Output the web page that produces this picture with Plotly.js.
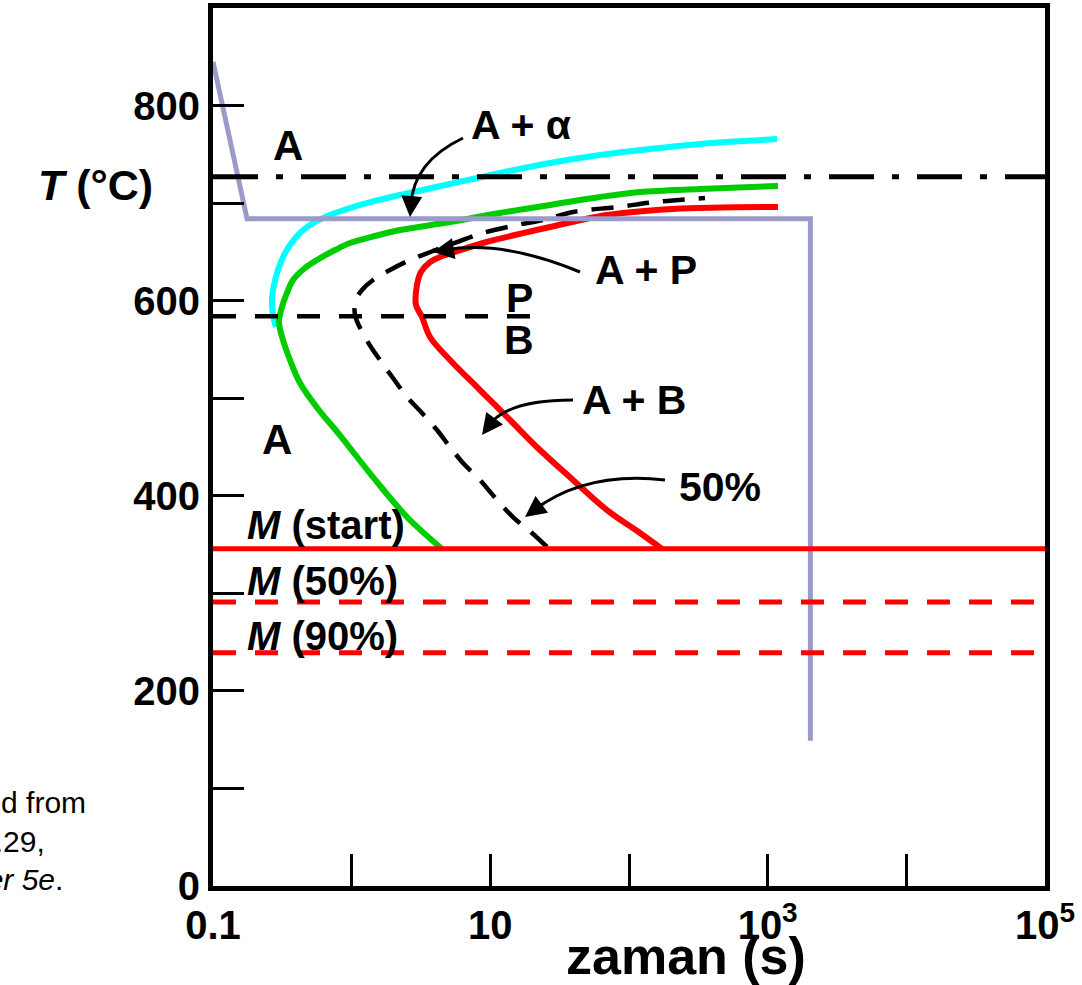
<!DOCTYPE html>
<html>
<head>
<meta charset="utf-8">
<script src="https://cdn.plot.ly/plotly-3.0.1.min.js"></script>
<style>html,body{margin:0;padding:0;background:#fff;}#chart{width:1082px;height:985px;}</style>
</head>
<body>
<div id="chart"></div>
<script>
// ---- Data (time in s, temperature in °C) ----
const cyanTime  = [0.2846, 0.2709, 0.2664, 0.2754, 0.2942, 0.3251, 0.3592, 0.424, 0.5006, 0.6978, 0.9727, 1.473, 2.231, 5.118, 11.74, 26.93, 61.78, 141.7, 325.0, 1167];
const cyanTemp  = [573.0, 585.3, 600.7, 616.1, 631.5, 646.8, 657.1, 669.4, 677.6, 687.8, 695.0, 702.2, 708.3, 719.6, 730.9, 741.1, 749.3, 755.5, 760.6, 765.7];

const greenTime = [4.408, 2.506, 1.425, 0.797, 0.565, 0.424, 0.3592, 0.3197, 0.2992, 0.3145, 0.3417, 0.3776, 0.4608, 0.5623, 0.7584, 0.9727, 1.473, 2.231, 5.118, 11.74, 26.93, 61.78, 120, 325, 1187];
const greenTemp = [346.5, 378.2, 419.2, 464.4, 490.0, 515.6, 539.2, 559.7, 578.1, 593.5, 607.9, 621.2, 633.5, 641.7, 651.9, 659.1, 666.3, 672.4, 680.6, 689.9, 698.1, 706.3, 711.4, 714.5, 717.6];

const halfTime  = [25.62, 19.97, 14.57, 11.17, 8.424, 6.351, 5.118, 4.124, 3.216, 2.506, 1.986, 1.6, 1.311, 1.057, 1.0745, 1.187, 1.425, 1.889, 2.634, 3.859, 5.749, 8.852, 15.57, 23.97, 39.47, 81.9, 159.1, 353.2];
const halfTemp  = [347.5, 361.8, 378.2, 395.7, 416.2, 433.6, 450.0, 467.4, 484.9, 501.3, 520.7, 539.2, 557.6, 585.3, 600.7, 610.9, 621.2, 631.5, 641.7, 650.9, 660.1, 669.4, 677.6, 682.7, 690.9, 696.0, 701.2, 705.3];

const redTime   = [172.9, 120.0, 69.38, 39.47, 22.81, 13.86, 8.424, 5.118, 3.672, 3.216, 2.91, 2.959, 3.16, 3.672, 4.335, 5.562, 8.852, 15.06, 26.93, 69.38, 207.6, 1187];
const redTemp   = [345.6, 361.8, 385.4, 416.2, 446.9, 477.7, 508.4, 539.2, 562.8, 583.3, 595.7, 616.1, 629.4, 639.6, 644.8, 649.9, 659.1, 667.3, 675.5, 687.8, 694.0, 696.1];

const pathTime  = [0.1, 0.176, 2033, 2033];
const pathTemp  = [845, 684, 684, 149];

const fullSpan  = [0.1, 100000];
const pbSpan    = [0.1, 19.5];
const eutectoidT = 727;
const pbT = 584;
const msT = 345.6;
const m50T = 291;
const m90T = 239;

const xTickVals = [0.1, 1, 10, 100, 1000, 10000, 100000];
const xTickText = ['0.1', '', '10', '', '10<sup>3</sup>', '', '10<sup>5</sup>'];
const yTickVals = [0, 100, 200, 300, 400, 500, 600, 700, 800];
const yTickText = ['0', '', '200', '', '400', '', '600', '', '800'];

// ---- Layout geometry helpers (pixels -> paper) ----
const L = 213, R = 1045, TOP = 8, BOT = 886;
const px = x => (x - L) / (R - L);
const py = y => (BOT - y) / (BOT - TOP);

const FONT = 'Liberation Sans, Arial, Helvetica, sans-serif';

function hline(y, span, color, dash, width) {
  return {x: span, y: [y, y], mode: 'lines', line: {color: color, dash: dash, width: width}, hoverinfo: 'skip'};
}

const SMOOTH = 1.0;
const traces = [
  {x: cyanTime, y: cyanTemp, mode: 'lines', line: {color: '#00ffff', width: 6, shape: 'spline', smoothing: SMOOTH}},
  {x: greenTime, y: greenTemp, mode: 'lines', line: {color: '#00cc00', width: 6, shape: 'spline', smoothing: SMOOTH}},
  {x: redTime, y: redTemp, mode: 'lines', line: {color: '#ff0000', width: 6, shape: 'spline', smoothing: SMOOTH}},
  {x: halfTime, y: halfTemp, mode: 'lines', line: {color: '#000000', width: 4.5, dash: '22px,14px', shape: 'spline', smoothing: SMOOTH}},
  {x: pathTime, y: pathTemp, mode: 'lines', line: {color: '#9b9bcb', width: 5}},
  hline(eutectoidT, fullSpan, '#000000', '45px,18px,7px,18px', 5),
  hline(pbT, pbSpan, '#000000', '23px,19px', 4.5),
  hline(msT, fullSpan, '#ff0000', 'solid', 5),
  hline(m50T, fullSpan, '#ff0000', '23px,19px', 5),
  hline(m90T, fullSpan, '#ff0000', '23px,19px', 5)
];

function label(text, x, y, size, xanchor) {
  return {text: text, xref: 'paper', yref: 'paper', x: px(x), y: py(y), showarrow: false,
          xanchor: xanchor || 'center', yanchor: 'middle',
          font: {family: FONT, size: size, color: '#000'}};
}
function head(x, y, ax, ay) {
  return {text: '', xref: 'paper', yref: 'paper', x: px(x), y: py(y), ax: ax, ay: ay,
          showarrow: true, arrowhead: 2, arrowsize: 1.4, arrowwidth: 3, arrowcolor: '#000', standoff: 0};
}
function curve(x0, y0, cx, cy, x1, y1) {
  return {type: 'path', xref: 'paper', yref: 'paper',
          path: `M ${px(x0)},${py(y0)} Q ${px(cx)},${py(cy)} ${px(x1)},${py(y1)}`,
          line: {color: '#000', width: 3}};
}

const annotations = [
  label('<b>A</b>', 288, 145, 42),
  label('<b>A + α</b>', 521, 125, 41),
  label('<b>A + P</b>', 646, 270, 41),
  label('<b>P</b>', 519, 298, 41),
  label('<b>B</b>', 519, 340, 41),
  label('<b>A + B</b>', 634, 400, 41),
  label('<b>A</b>', 277, 440, 42),
  label('<b>50%</b>', 720, 487, 41),
  label('<b><i>M</i> (start)</b>', 245, 525, 40, 'left'),
  label('<b><i>M</i> (50%)</b>', 245, 581, 40, 'left'),
  label('<b><i>M</i> (90%)</b>', 245, 636, 40, 'left'),
  label('<b>zaman (s)</b>', 686, 956, 52),
  label('<b><i>T</i> (°C)</b>', 95, 185, 43),
  label('Adapted from', 88, 802, 30, 'right'),
  label('Fig. 10.29,', 47, 841, 30, 'right'),
  label('<i>Callister 5e</i>.', 65, 879, 30, 'right'),
  head(410, 217, 1, -12),
  head(433, 252, 12, -2),
  head(482, 435, 6, -8),
  head(525, 517, 8, -6)
];

const shapes = [
  curve(463, 138, 413, 162, 411, 205),
  curve(580, 272, 503, 240, 445, 250),
  curve(573, 400, 505, 400, 488, 427),
  curve(665, 480, 585, 471, 533, 511)
];

const layout = {
  width: 1082, height: 985,
  margin: {l: L, r: 1082 - R, t: TOP, b: 985 - BOT, pad: 0},
  paper_bgcolor: '#fff', plot_bgcolor: '#fff',
  showlegend: false,
  font: {family: FONT, color: '#000'},
  xaxis: {
    type: 'log', range: [-1, 5], autorange: false,
    tickmode: 'array', tickvals: xTickVals, ticktext: xTickText,
    ticks: 'inside', ticklen: 32, tickwidth: 3, tickcolor: '#000',
    tickfont: {family: FONT, size: 40, color: '#000', weight: 'bold'},
    showline: true, linewidth: 5, linecolor: '#000', mirror: true,
    showgrid: false, zeroline: false
  },
  yaxis: {
    range: [0, 900], autorange: false,
    tickmode: 'array', tickvals: yTickVals, ticktext: yTickText,
    ticks: 'inside', ticklen: 31, tickwidth: 3, tickcolor: '#000',
    tickfont: {family: FONT, size: 40, color: '#000', weight: 'bold'},
    showline: true, linewidth: 5, linecolor: '#000', mirror: true,
    showgrid: false, zeroline: false
  },
  annotations: annotations,
  shapes: shapes
};

Plotly.newPlot('chart', traces, layout, {displayModeBar: false, staticPlot: true});
</script>
</body>
</html>
